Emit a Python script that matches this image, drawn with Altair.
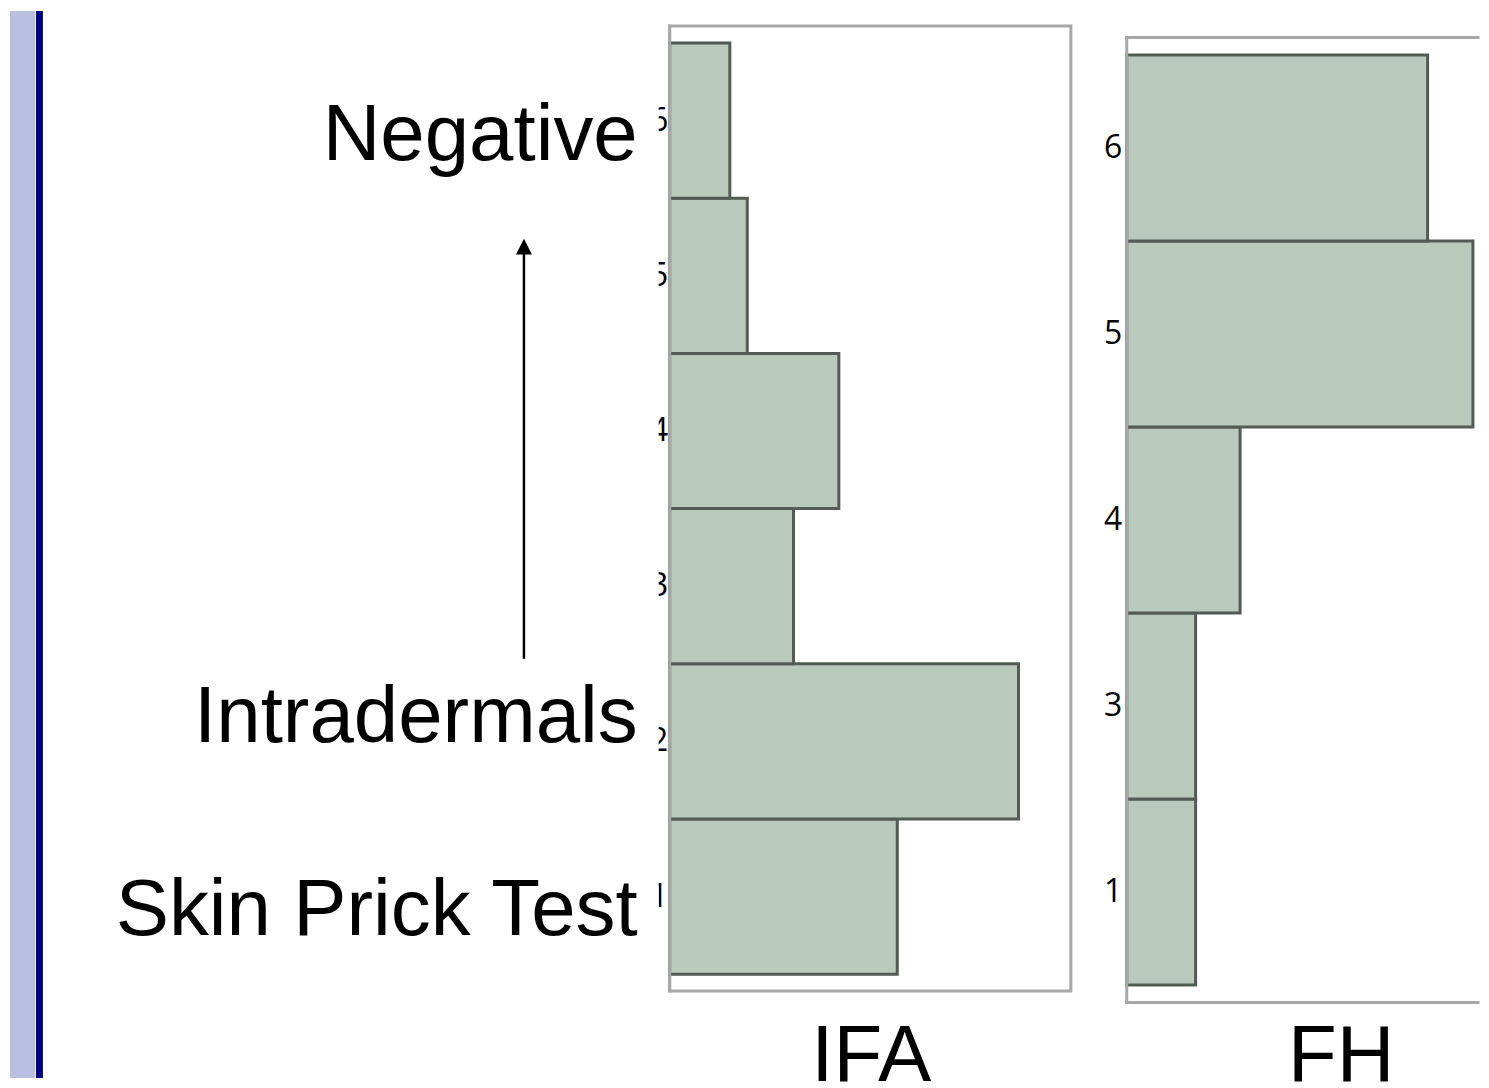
import altair as alt
import pandas as pd

# ---- data ----
ifa_categories = ["1", "2", "3", "4", "5", "6"]
ifa_values = [26.1, 40.0, 14.2, 19.4, 8.9, 6.9]
fh_categories = ["1", "3", "4", "5", "6"]
fh_values = [7.9, 7.9, 13.0, 39.7, 34.5]
level_labels = ["Negative", "Intradermals", "Skin Prick Test"]
panel_titles = ["IFA", "FH"]

FILL = "#b9c9bb"
EDGE = "#525c54"
FRAME = "#a8a8a8"
BIG_FONT = "Liberation Sans"
SMALL_FONT = "Open Sans"

W1, W2, H1, H2 = 402, 352, 967, 978.5
FH_TOP = 11.5

ifa_df = pd.DataFrame({"cat": ifa_categories, "n": ifa_values})
fh_df = pd.DataFrame({"cat": fh_categories, "n": fh_values})
one = pd.DataFrame({"k": [0]})

ifa_sort = ifa_categories[::-1]
fh_sort = fh_categories[::-1]

# ---- decorations of the slide (left strip) ----
strip = alt.Chart(one).mark_rect(color="#babee0").encode(
    x=alt.value(-661), x2=alt.value(-636), y=alt.value(-15), y2=alt.value(1054))
navy = alt.Chart(one).mark_rect(color="#000080").encode(
    x=alt.value(-635), x2=alt.value(-628), y=alt.value(-15), y2=alt.value(1054))
cover = alt.Chart(one).mark_rect(color="white").encode(
    x=alt.value(-560), x2=alt.value(-11), y=alt.value(0), y2=alt.value(H1))


def big_text(txt, x, y, align="right"):
    return alt.Chart(one).mark_text(
        text=txt, font=BIG_FONT, fontSize=80, align=align,
        baseline="alphabetic", color="black"
    ).encode(x=alt.value(x), y=alt.value(y))


def frame_rule(x, x2, y, y2):
    return alt.Chart(one).mark_rule(
        color=FRAME, strokeWidth=3, strokeCap="square"
    ).encode(x=alt.value(x), x2=alt.value(x2), y=alt.value(y), y2=alt.value(y2))


t_neg = big_text(level_labels[0], -32, 134)
t_intra = big_text(level_labels[1], -32, 717)
t_spt = big_text(level_labels[2], -32, 911)

shaft = alt.Chart(one).mark_rule(color="black", strokeWidth=2.5).encode(
    x=alt.value(-146), y=alt.value(226), y2=alt.value(634))
head = alt.Chart(one).mark_point(
    shape="M0,-1L1,1L-1,1Z", size=256, filled=True, color="black", opacity=1
).encode(x=alt.value(-146), y=alt.value(221))

ifa_bars = alt.Chart(ifa_df).mark_bar(
    fill=FILL, stroke=EDGE, strokeWidth=3, opacity=1
).encode(
    x=alt.X("n:Q", scale=alt.Scale(domain=[0, 46]), axis=None),
    y=alt.Y("cat:O", sort=ifa_sort,
            scale=alt.Scale(paddingInner=0, paddingOuter=0.109),
            axis=alt.Axis(title=None, ticks=False, domain=False, grid=False,
                          labelFont=SMALL_FONT, labelFontSize=32,
                          labelColor="black", labelPadding=2, labelAngle=0)),
)

ifa_left = frame_rule(0, 0, 0, H1)
ifa_title = big_text(panel_titles[0], 202, 1057, align="center")

ifa = alt.layer(
    strip, navy, cover, t_neg, t_intra, t_spt, shaft, head,
    ifa_bars, ifa_left, ifa_title
).properties(
    width=W1, height=H1,
    view=alt.ViewBackground(stroke=FRAME, strokeWidth=3)
)

fh_bars = alt.Chart(fh_df).mark_bar(
    fill=FILL, stroke=EDGE, strokeWidth=3, opacity=1
).encode(
    x=alt.X("n:Q", scale=alt.Scale(domain=[0, 40.28]), axis=None),
    y=alt.Y("cat:O", sort=fh_sort,
            scale=alt.Scale(paddingInner=0, paddingOuter=0.1248, align=0.6237),
            axis=alt.Axis(title=None, ticks=False, grid=False, domain=False,
                          labelFont=SMALL_FONT, labelFontSize=32,
                          labelColor="black", labelPadding=5, labelAngle=0,
                          minExtent=30, maxExtent=30)),
)

fh_left = frame_rule(0, 0, FH_TOP, H2)
fh_top = frame_rule(0, W2, FH_TOP, FH_TOP)
fh_bottom = frame_rule(0, W2, H2, H2)
fh_title = big_text(panel_titles[1], 215, 1057, align="center")

fh = alt.layer(fh_bars, fh_left, fh_top, fh_bottom, fh_title).properties(
    width=W2, height=H2,
    view=alt.ViewBackground(stroke="transparent", strokeWidth=0)
)

chart = alt.hconcat(ifa, fh, spacing=24).properties(padding=0)

chart.save("out.html", embed_options={"renderer": "svg", "actions": False})
